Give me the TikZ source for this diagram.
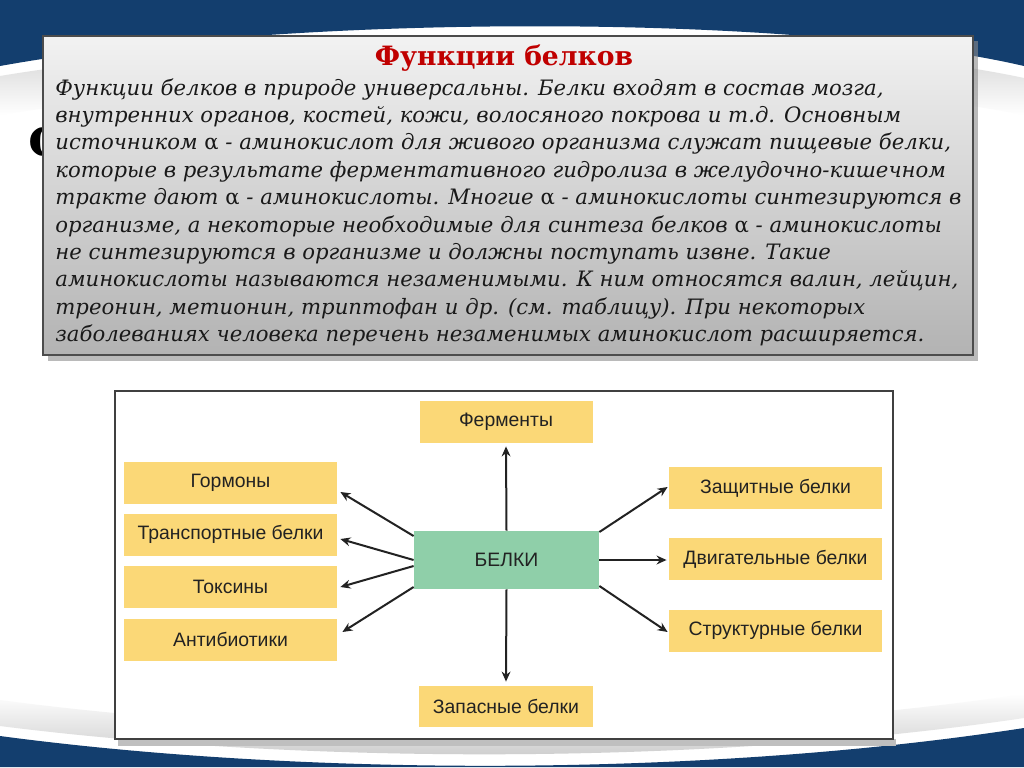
\documentclass[tikz,border=0pt]{standalone}
\usepackage{fontspec}
\setmainfont{DejaVu Serif}
\setsansfont{Liberation Sans}
\usetikzlibrary{arrows.meta,positioning,calc}
\definecolor{slideblue}{HTML}{133E6E}
\definecolor{titlered}{HTML}{C00000}
\definecolor{boxyellow}{HTML}{FBD877}
\definecolor{boxgreen}{HTML}{8FCFA9}
\definecolor{inkgray}{HTML}{222222}
\tikzset{
  fnode/.style={rectangle,fill=boxyellow,minimum width=106.5pt,minimum height=21pt,inner sep=1pt,text=inkgray,font=\sffamily\fontsize{9.7}{11}\selectfont},
  cnode/.style={rectangle,fill=boxgreen,minimum width=92.5pt,minimum height=29pt,inner sep=1pt,text=inkgray,font=\sffamily\fontsize{9.7}{11}\selectfont},
  fe/.style={-{Stealth[length=5pt,width=4.4pt]},line width=1pt,draw=inkgray}
}

\begin{document}
\begin{tikzpicture}[x=0.5pt,y=-0.5pt]
\useasboundingbox (0,0) rectangle (1024,767);
% slide background
\fill[white] (0,0) rectangle (1024,767);
\shade[top color=gray!45,bottom color=white] (0,76) .. controls (300,26) and (800,30) .. (1024,78) -- (1024,115) .. controls (800,70) and (300,66) .. (0,115) -- cycle;
\fill[slideblue] (0,0) -- (1024,0) -- (1024,66) .. controls (800,14) and (300,12) .. (0,66) -- cycle;
\shade[top color=white,bottom color=gray!45] (0,700) .. controls (300,740) and (700,742) .. (1024,694) -- (1024,718) .. controls (700,766) and (300,764) .. (0,726) -- cycle;
\fill[slideblue] (0,736) .. controls (300,776) and (700,778) .. (1024,728) -- (1024,767) -- (0,767) -- cycle;
\node[font=\bfseries\fontsize{26}{26}\selectfont] (bgtitle) at (52,141) {ф};
% text box
\fill[black!45,opacity=0.6] (48,41) rectangle (978,361);
\shade[top color=black!5,bottom color=black!30,draw=black!70,line width=0.6pt] (43,36) rectangle (973,355);
\node[text=titlered,font=\bfseries\fontsize{13.3}{15}\selectfont] (title) at (504,58) {Функции белков};
\node[anchor=north west,inner sep=0pt,align=left,text=black!90,font=\itshape\fontsize{10.6}{13.7}\selectfont] (body) at (55,78) {%
Функции белков в природе универсальны. Белки входят в состав мозга,\\
внутренних органов, костей, кожи, волосяного покрова и т.д. Основным\\
источником {\upshape α} - аминокислот для живого организма служат пищевые белки,\\
которые в результате ферментативного гидролиза в желудочно-кишечном\\
тракте дают {\upshape α} - аминокислоты. Многие {\upshape α} - аминокислоты синтезируются в\\
организме, а некоторые необходимые для синтеза белков {\upshape α} - аминокислоты\\
не синтезируются в организме и должны поступать извне. Такие\\
аминокислоты называются незаменимыми. К ним относятся валин, лейцин,\\
треонин, метионин, триптофан и др. (см. таблицу). При некоторых\\
заболеваниях человека перечень незаменимых аминокислот расширяется.};
% diagram frame
\fill[black!25] (118,739) rectangle (896,746);
\draw[draw=black!75,line width=0.8pt,fill=white] (115,391) rectangle (893,739);
% boxes
\node[cnode] (belki) at (506.5,560) {БЕЛКИ};
\node[fnode,minimum width=86.5pt] (ferm) at (506,422) {Ферменты};
\node[fnode,minimum width=87pt,minimum height=20.5pt] (zap) at (506,706.5) {Запасные белки};
\node[fnode] (gorm) at (230.5,483) {Гормоны};
\node[fnode] (transp) at (230.5,534.5) {Транспортные белки};
\node[fnode] (toks) at (230.5,587) {Токсины};
\node[fnode] (anti) at (230.5,639.5) {Антибиотики};
\node[fnode] (zasch) at (775.5,488) {Защитные белки};
\node[fnode] (dvig) at (775.5,559) {Двигательные белки};
\node[fnode] (strukt) at (775.5,630.5) {Структурные белки};
% arrows
\draw[fe] (belki.north) -- ([shift={(0,3)}]ferm.south);
\draw[fe] (belki.south) -- ([shift={(0,-4)}]zap.north);
\draw[fe] ([shift={(0,-24)}]belki.west) -- ([shift={(3,9)}]gorm.east);
\draw[fe] (belki.west) -- ([shift={(3,4.5)}]transp.east);
\draw[fe] ([shift={(0,6)}]belki.west) -- ([shift={(3,0)}]toks.east);
\draw[fe] ([shift={(0,27)}]belki.west) -- ([shift={(5,-7.5)}]anti.east);
\draw[fe] ([shift={(0,-28)}]belki.east) -- ([shift={(-1,-1)}]zasch.west);
\draw[fe] (belki.east) -- ([shift={(-2,1)}]dvig.west);
\draw[fe] ([shift={(0,26)}]belki.east) -- ([shift={(-1,1.5)}]strukt.west);
\end{tikzpicture}
\end{document}
